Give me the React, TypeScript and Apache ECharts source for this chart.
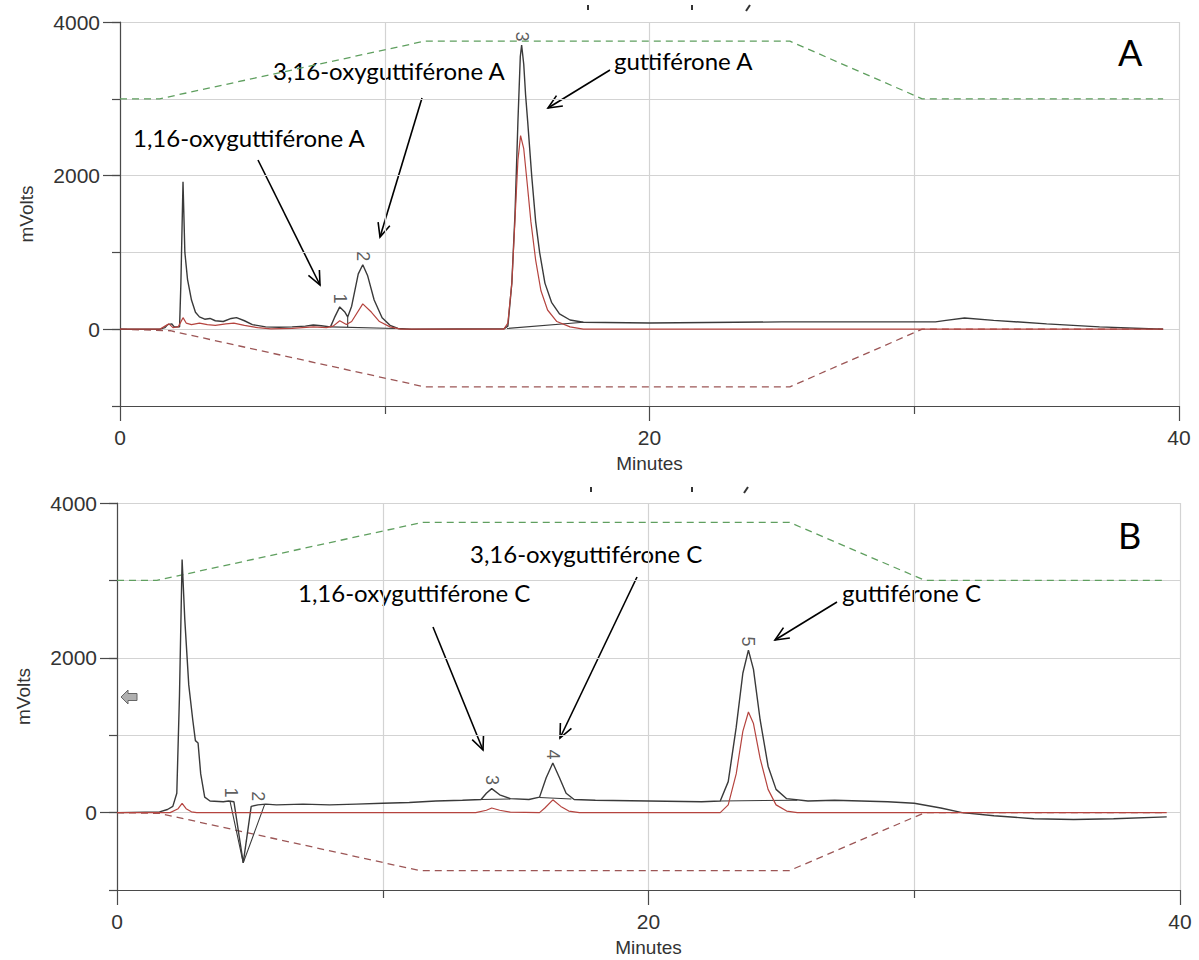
import React, { useEffect, useRef } from "react";
import * as echarts from "echarts";

// ---------- Panel A data (minutes, mVolts) ----------
const blackA: [number, number][] = [
  [0, 0], [1.5, 0], [1.7, 20], [1.8, 60], [1.95, 70], [2.05, 30], [2.25, 30], [2.3, 600], [2.38, 1920],
  [2.45, 1000], [2.55, 650], [2.7, 380], [2.85, 220], [3.0, 160], [3.2, 130], [3.4, 140], [3.6, 110],
  [3.9, 100], [4.2, 140], [4.4, 150], [4.7, 110], [5.0, 60], [5.5, 30], [6.0, 25], [6.5, 30], [7.0, 40],
  [7.3, 55], [7.6, 45], [7.95, 30], [8.1, 150], [8.3, 290], [8.5, 220], [8.6, 160], [8.75, 300],
  [9.0, 720], [9.17, 840], [9.35, 700], [9.6, 380], [9.9, 150], [10.2, 50], [10.5, 10], [11, 0],
  [14.5, 5], [14.65, 40], [14.8, 600], [14.92, 1500], [15.03, 2700], [15.12, 3550], [15.17, 3700],
  [15.25, 3450], [15.32, 3050], [15.4, 2700], [15.55, 2000], [15.7, 1400], [15.85, 1000], [16.05, 600],
  [16.3, 350], [16.6, 200], [17.0, 120], [17.5, 90], [20, 80], [25, 95], [29, 95], [30.8, 95],
  [31.2, 115], [31.9, 145], [33, 115], [35, 70], [37, 30], [39.4, 0]
];
const redA: [number, number][] = [
  [0, 0], [1.5, 0], [1.7, 40], [1.85, 70], [2.0, 20], [2.2, 30], [2.38, 150], [2.5, 80], [2.7, 60],
  [3.0, 80], [3.3, 60], [3.6, 50], [4.0, 70], [4.3, 80], [4.7, 50], [5.2, 20], [5.7, 5], [6.5, 10],
  [7.3, 30], [7.8, 20], [8.05, 40], [8.3, 110], [8.55, 60], [8.75, 100], [9.17, 330], [9.5, 220],
  [9.8, 100], [10.2, 30], [10.6, 0], [14.5, 0], [14.65, 80], [14.8, 600], [14.93, 1500], [15.03, 2200],
  [15.13, 2520], [15.25, 2350], [15.38, 1900], [15.52, 1400], [15.7, 900], [15.9, 500], [16.15, 250],
  [16.5, 100], [17.0, 30], [17.5, 0], [39.4, 0]
];
// integration baselines / drop line drawn by the data system
const integrationA: any[] = [[7.95, 30], [10.4, 10], ["-", "-"], [8.6, 160], [8.6, 20], ["-", "-"], [14.62, 10], [17.5, 90]];
const gradGreenA: [number, number][] = [[0, 3000], [1.5, 3000], [11.5, 3750], [25.3, 3750], [30.3, 3000], [39.4, 3000]];
const gradRedA: [number, number][] = [[0, 0], [1.9, -20], [11.5, -750], [25.3, -750], [30.3, 0], [39.4, 0]];
const peakTimesA = [8.3, 9.17, 15.17];
const peakHeightsA = [290, 840, 3700];
const peakNamesA = ["1", "2", "3"];

// ---------- Panel B data ----------
const blackB: [number, number][] = [
  [0, 0], [1.6, 10], [1.9, 40], [2.1, 80], [2.25, 250], [2.35, 1500], [2.45, 3270], [2.55, 2500],
  [2.7, 1650], [2.85, 1200], [2.95, 930], [3.05, 900], [3.15, 500], [3.3, 200], [3.5, 150], [4.0, 140],
  [4.2, 150], [4.4, 140], [4.75, -650], [5.05, 80], [5.3, 100], [5.6, 110], [6, 100], [7, 110], [8, 100],
  [9, 110], [10, 120], [11, 130], [12, 150], [13, 160], [13.7, 170], [13.9, 250], [14.1, 310], [14.4, 230],
  [14.8, 180], [15.5, 170], [15.9, 200], [16.15, 450], [16.4, 640], [16.65, 450], [16.9, 250], [17.2, 170],
  [18, 160], [20, 150], [22, 140], [22.7, 150], [23.0, 400], [23.3, 1100], [23.55, 1800], [23.76, 2100],
  [23.95, 1850], [24.2, 1200], [24.5, 600], [24.8, 300], [25.2, 180], [26, 150], [27, 160], [28, 150],
  [29, 140], [30, 120], [31, 60], [31.8, 0], [33, -40], [34.5, -80], [36, -90], [37.5, -80], [39.5, -55]
];
const redB: [number, number][] = [
  [0, 0], [2.0, 0], [2.3, 50], [2.45, 120], [2.6, 50], [2.8, 10], [3, 0], [13.5, 0], [13.9, 30],
  [14.1, 60], [14.4, 30], [14.8, 5], [15.9, 0], [16.1, 60], [16.4, 165], [16.7, 80], [17, 20], [17.4, 0],
  [22.7, 0], [23.0, 100], [23.3, 500], [23.55, 1050], [23.76, 1300], [23.95, 1150], [24.2, 700],
  [24.5, 300], [24.8, 100], [25.2, 20], [25.6, 0], [39.5, 0]
];
const integrationB: any[] = [
  [4.25, 150], [4.75, -650], [5.55, 100], ["-", "-"], [13.7, 170], [14.8, 175], ["-", "-"],
  [15.9, 195], [17.1, 175], ["-", "-"], [22.7, 150], [25.6, 160]
];
const gradGreenB: [number, number][] = [[0, 3000], [1.5, 3000], [11.5, 3750], [25.3, 3750], [30.4, 3000], [39.5, 3000]];
const gradRedB: [number, number][] = [[0, 0], [1.6, -10], [11.4, -750], [25.3, -750], [30.4, 0], [39.5, 0]];
const peakTimesB = [4.3, 5.3, 14.1, 16.4, 23.76];
const peakHeightsB = [150, 100, 310, 640, 2100];
const peakNamesB = ["1", "2", "3", "4", "5"];

// ---------- Axis ticks ----------
const xMin = 0, xMax = 40, xStep = 20;
const yMin = -1000, yMax = 4000, yStep = 1000;
const yLabelValues = [0, 2000, 4000];

const AXIS = "#4a4a4a";
const GRIDC = "#d3d3d3";
const TXT = "#333333";
const SANS = "'Liberation Sans', Arial, sans-serif";
const CAL = "Lato, 'Open Sans', sans-serif";

function arrow(x1: number, y1: number, x2: number, y2: number): any[] {
  const ang = Math.atan2(y2 - y1, x2 - x1);
  const L = 15, a = 0.42;
  const p1 = [x2 - L * Math.cos(ang - a), y2 - L * Math.sin(ang - a)];
  const p2 = [x2 - L * Math.cos(ang + a), y2 - L * Math.sin(ang + a)];
  const st = { stroke: "#000", lineWidth: 1.6, fill: null };
  return [
    { type: "line", shape: { x1, y1, x2, y2 }, style: st, silent: true },
    { type: "polyline", shape: { points: [p1, [x2, y2], p2] }, style: st, silent: true },
  ];
}

function note(text: string, x: number, y: number, size = 24, align = "left"): any {
  return {
    type: "text", x, y, silent: true,
    style: { text, fill: "#000", fontSize: size, fontFamily: CAL, align, verticalAlign: "middle" },
  };
}

function xAxes(gi: number) {
  return {
    gridIndex: gi, type: "value", min: xMin, max: xMax, interval: xStep,
    name: "Minutes", nameLocation: "middle", nameGap: 48,
    nameTextStyle: { fontSize: 19, color: TXT, fontFamily: SANS },
    axisLine: { onZero: false, lineStyle: { color: AXIS, width: 1.2 } },
    axisTick: { length: 15, lineStyle: { color: AXIS, width: 1.2 } },
    minorTick: { show: true, splitNumber: 2, length: 8, lineStyle: { color: AXIS, width: 1.2 } },
    splitLine: { show: true, lineStyle: { color: GRIDC, width: 1.2 } },
    minorSplitLine: { show: true, lineStyle: { color: GRIDC, width: 1.2 } },
    axisLabel: { fontSize: 21, color: TXT, fontFamily: SANS, margin: 21 },
  };
}

function yAxes(gi: number) {
  return [
    {
      gridIndex: gi, type: "value", position: "left", min: yMin, max: yMax, interval: yStep,
      name: "mVolts", nameLocation: "middle", nameGap: 84,
      nameTextStyle: { fontSize: 19, color: TXT, fontFamily: SANS },
      axisLine: { show: true, onZero: false, lineStyle: { color: AXIS, width: 1.2 } },
      axisTick: { show: true, length: 8, lineStyle: { color: AXIS, width: 1.2 } },
      splitLine: { show: true, lineStyle: { color: GRIDC, width: 1.2 } },
      axisLabel: {
        fontSize: 21, color: TXT, fontFamily: SANS, margin: 20,
        formatter: (v: number) => (yLabelValues.indexOf(v) >= 0 ? String(v) : ""),
      },
    },
    {
      gridIndex: gi, type: "value", position: "left", min: yMin, max: yMax, interval: yStep,
      axisLine: { show: false, onZero: false },
      axisTick: { show: true, length: 17, customValues: yLabelValues, lineStyle: { color: AXIS, width: 1.2 } },
      splitLine: { show: false },
      axisLabel: { show: false },
    },
  ];
}

function lineSeries(xi: number, yi: number, data: any[], color: string, width: number, dashed = false, z = 3) {
  return {
    type: "line", xAxisIndex: xi, yAxisIndex: yi, data, symbol: "none", showSymbol: false, z,
    connectNulls: false,
    lineStyle: { color, width, type: dashed ? [7, 5] : "solid" },
  };
}

function peakLabels(xi: number, yi: number, ts: number[], vs: number[], names: string[]) {
  return {
    type: "scatter", xAxisIndex: xi, yAxisIndex: yi, symbolSize: 1, z: 6,
    itemStyle: { color: "rgba(0,0,0,0)" },
    data: ts.map((t, i) => ({ value: [t, vs[i]], name: names[i] })),
    label: {
      show: true, formatter: "{b}", position: "top", distance: 3, rotate: -90,
      align: "right", verticalAlign: "middle", fontSize: 18, color: TXT, fontFamily: SANS,
    },
  };
}

export default function App() {
  const ref = useRef<HTMLDivElement>(null);
  useEffect(() => {
    if (!ref.current) return;
    const chart = echarts.init(ref.current, null, { renderer: "svg" });
    const grayArrow = {
      type: "polygon", silent: true,
      shape: { points: [[121, 697], [128, 690], [128, 693.5], [137, 693.5], [137, 700.5], [128, 700.5], [128, 704]] },
      style: { fill: "#b0b0b0", stroke: "#666", lineWidth: 1 },
    };
    const marks = [
      [588, 5, 588, 10], [692, 5, 692, 10], [750, 5, 746, 11],
      [591, 487, 591, 492], [692, 487, 692, 492], [748, 487, 744, 493],
    ].map(([x1, y1, x2, y2]) => ({ type: "line", silent: true, shape: { x1, y1, x2, y2 }, style: { stroke: "#333", lineWidth: 2 } }));

    chart.setOption({
      animation: false,
      backgroundColor: "#ffffff",
      grid: [
        { left: 120, top: 22, width: 1059, height: 384 },
        { left: 117, top: 503, width: 1063, height: 387 },
      ],
      xAxis: [xAxes(0), xAxes(1)],
      yAxis: [...yAxes(0), ...yAxes(1)],
      series: [
        lineSeries(0, 0, gradGreenA, "#5f9f5f", 1.3, true, 2),
        lineSeries(0, 0, gradRedA, "#9c5656", 1.3, true, 2),
        lineSeries(0, 0, integrationA, "#3a3a3a", 1.1, false, 4),
        lineSeries(0, 0, blackA, "#3a3a3a", 1.4, false, 4),
        lineSeries(0, 0, redA, "#b5443f", 1.2, false, 5),
        peakLabels(0, 0, peakTimesA, peakHeightsA, peakNamesA),
        lineSeries(1, 2, gradGreenB, "#5f9f5f", 1.3, true, 2),
        lineSeries(1, 2, gradRedB, "#9c5656", 1.3, true, 2),
        lineSeries(1, 2, integrationB, "#3a3a3a", 1.1, false, 4),
        lineSeries(1, 2, blackB, "#3a3a3a", 1.4, false, 4),
        lineSeries(1, 2, redB, "#b5443f", 1.2, false, 5),
        peakLabels(1, 2, peakTimesB, peakHeightsB, peakNamesB),
      ],
      graphic: [
        note("1,16-oxyguttiférone A", 133, 137),
        note("3,16-oxyguttiférone A", 273, 70),
        note("guttiférone A", 614, 60),
        note("A", 1118, 52, 36),
        ...arrow(258, 160, 320, 285),
        ...arrow(422, 98, 380, 237),
        ...arrow(610, 70, 548, 108),
        note("1,16-oxyguttiférone C", 298, 592),
        note("3,16-oxyguttiférone C", 470, 553),
        note("guttiférone C", 842, 592),
        note("B", 1118, 535, 36),
        ...arrow(433, 627, 483, 750),
        ...arrow(637, 577, 560, 738),
        ...arrow(837, 602, 775, 640),
        grayArrow,
        ...marks,
      ],
    });
    return () => chart.dispose();
  }, []);
  return (
    <div
      ref={ref}
      style={{ position: "absolute", left: 0, top: 0, width: 1199, height: 960, background: "#fff" }}
    />
  );
}
